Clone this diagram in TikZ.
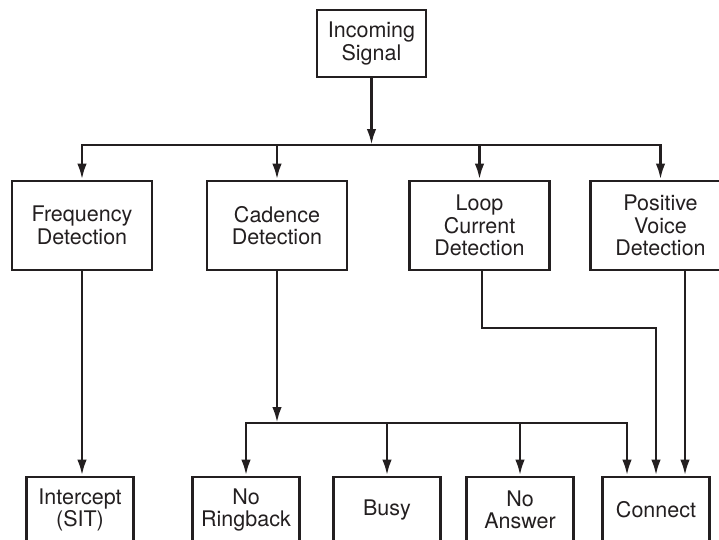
\documentclass[tikz,border=0pt]{standalone}
\usepackage{fontspec}
\setmainfont{TeX Gyre Heros}
\usetikzlibrary{arrows.meta}
\definecolor{ink}{HTML}{231F20}

\begin{document}
\begin{tikzpicture}[x=1pt, y=1pt, line width=2.8pt, color=ink,
    box/.style={rectangle, draw, align=center, inner sep=0pt, font=\fontsize{21.5}{22.5}\selectfont},
    detect/.style={box, minimum width=140pt, minimum height=89pt},
    outcome/.style={box, minimum width=107pt, minimum height=66pt},
    flow/.style={-{Latex[length=16pt,width=9.5pt]}}]

    \useasboundingbox (0,0) rectangle (719,-539);

    \node[box, minimum width=109pt, minimum height=67pt] (signal) at (371.5,-43.5) {Incoming\\Signal};

    \node[detect] (freq) at (82,-225.5) {Frequency\\Detection};
    \node[detect] (cad) at (277,-225.5) {Cadence\\Detection};
    \node[detect] (loop) at (479.5,-225.5) {Loop\\Current\\Detection};
    \node[detect] (voice) at (660.5,-225.5) {Positive\\Voice\\Detection};

    \node[outcome] (sit) at (80,-510) {Intercept\\(SIT)};
    \node[outcome] (noring) at (246,-510) {No\\Ringback};
    \node[outcome] (busy) at (387,-510) {Busy};
    \node[outcome] (noans) at (520,-510) {No\\Answer};
    \node[outcome] (conn) at (656,-510) {Connect};

    \coordinate (top) at (371.5,-145);
    \coordinate (split) at (277,-423);
    \coordinate (bend) at (656,-328);
    \coordinate (c1) at ([xshift=-29pt]conn.north);
    \coordinate (c3) at ([xshift=29pt]conn.north);

    \draw[flow] (signal) -- (top);
    \draw[flow] (top) -| (freq.north);
    \draw[flow] (top) -| (voice.north);
    \draw[flow] (cad.north |- top) -- (cad.north);
    \draw[flow] (loop.north |- top) -- (loop.north);

    \draw[flow] (freq) -- (freq.south |- sit.north);

    \draw[flow] (cad) -- (split);
    \draw[flow] (split) -| (noring.north);
    \draw[flow] (split) -| (c1);
    \draw[flow] (busy.north |- split) -- (busy.north);
    \draw[flow] (noans.north |- split) -- (noans.north);

    \draw[flow] ([xshift=2.5pt]loop.south) |- (bend) -- (conn.north);
    \draw[flow] (c3 |- voice.south) -- (c3);

\end{tikzpicture}
\end{document}
